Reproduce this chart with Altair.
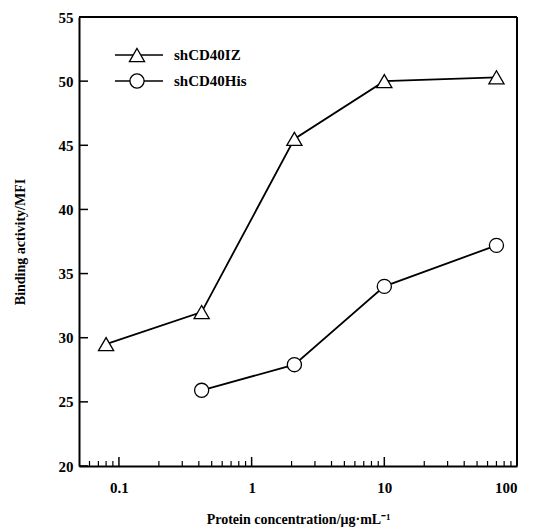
import altair as alt
import pandas as pd

# data
conc_iz = [0.08, 0.42, 2.1, 10, 70]
act_iz = [29.5, 32.0, 45.5, 50.0, 50.3]
conc_his = [0.42, 2.1, 10, 70]
act_his = [25.9, 27.9, 34.0, 37.2]
x_labels = [0.1, 1, 10, 100]
x_major = [0.1, 1, 10]
x_minor = [0.06, 0.07, 0.08, 0.09,
           0.2, 0.3, 0.4, 0.5, 0.6, 0.7, 0.8, 0.9,
           2, 3, 4, 5, 6, 7, 8, 9,
           20, 30, 40, 50, 60, 70, 80, 90]
y_ticks = [20, 25, 30, 35, 40, 45, 50, 55]
legend_names = ["shCD40IZ", "shCD40His"]

FONT = "Liberation Serif"
W, H = 438, 449

xs = alt.Scale(type="log", domain=[0.05, 100], nice=False)
ys = alt.Scale(domain=[20, 55], nice=False, zero=False)

df_iz = pd.DataFrame({"conc": conc_iz, "act": act_iz})
df_his = pd.DataFrame({"conc": conc_his, "act": act_his})

x_axis = alt.Axis(
    values=x_labels, ticks=False, grid=False,
    labelExpr="datum.value < 1 ? format(datum.value, '.1f') : format(datum.value, 'd')",
    labelPadding=14, labelFontSize=15, labelFont=FONT, labelFontWeight="bold",
    labelColor="black",
    domainColor="black", domainWidth=2,
    title="Protein concentration/μg·mL⁻¹", titleFont=FONT, titleFontSize=14,
    titleFontWeight="bold", titleColor="black", titleY=46, titleBaseline="top",
)
y_axis = alt.Axis(
    values=y_ticks, ticks=False, grid=False,
    labelPadding=6, labelFontSize=15, labelFont=FONT, labelFontWeight="bold",
    labelColor="black",
    domainColor="black", domainWidth=2,
    title="Binding activity/MFI", titleFont=FONT, titleFontSize=14,
    titleFontWeight="bold", titleColor="black", titleX=-59, titleY=H / 2,
    titleAngle=270, titleBaseline="middle", titleAlign="center",
)

line_iz = alt.Chart(df_iz).mark_line(color="black", strokeWidth=1.8).encode(
    x=alt.X("conc:Q", scale=xs, axis=x_axis),
    y=alt.Y("act:Q", scale=ys, axis=y_axis),
)
pts_iz = alt.Chart(df_iz).mark_point(
    shape="triangle-up", filled=True, fill="white", stroke="black",
    strokeWidth=1.3, size=230, opacity=1,
).encode(x=alt.X("conc:Q", scale=xs), y=alt.Y("act:Q", scale=ys))

line_his = alt.Chart(df_his).mark_line(color="black", strokeWidth=1.8).encode(
    x=alt.X("conc:Q", scale=xs), y=alt.Y("act:Q", scale=ys),
)
pts_his = alt.Chart(df_his).mark_point(
    shape="circle", filled=True, fill="white", stroke="black",
    strokeWidth=1.3, size=200, opacity=1,
).encode(x=alt.X("conc:Q", scale=xs), y=alt.Y("act:Q", scale=ys))

# inward ticks
yt = alt.Chart(pd.DataFrame({"act": y_ticks})).mark_rule(
    color="black", strokeWidth=1.5
).encode(y=alt.Y("act:Q", scale=ys), x=alt.value(0), x2=alt.value(9))
xt_major = alt.Chart(pd.DataFrame({"conc": x_major})).mark_rule(
    color="black", strokeWidth=1.5
).encode(x=alt.X("conc:Q", scale=xs), y=alt.value(H), y2=alt.value(H - 9))
xt_minor = alt.Chart(pd.DataFrame({"conc": x_minor})).mark_rule(
    color="black", strokeWidth=1.2
).encode(x=alt.X("conc:Q", scale=xs), y=alt.value(H), y2=alt.value(H - 5))

# frame top and right
frame_df = pd.DataFrame({"k": [0]})
frame_top = alt.Chart(frame_df).mark_rule(color="black", strokeWidth=2).encode(
    x=alt.value(0), x2=alt.value(W), y=alt.value(0))
frame_right = alt.Chart(frame_df).mark_rule(color="black", strokeWidth=2).encode(
    x=alt.value(W), y=alt.value(0), y2=alt.value(H))

# legend
leg_y = [38, 64]
leg_shapes = ["triangle-up", "circle"]
legend_layers = []
for name, yy, shp, sz in zip(legend_names, leg_y, leg_shapes, [230, 200]):
    d = pd.DataFrame({"name": [name]})
    legend_layers.append(
        alt.Chart(d).mark_rule(color="black", strokeWidth=1.3).encode(
            x=alt.value(36), x2=alt.value(84), y=alt.value(yy))
    )
    legend_layers.append(
        alt.Chart(d).mark_point(shape=shp, filled=True, fill="white", stroke="black",
                                strokeWidth=1.3, size=sz, opacity=1).encode(
            x=alt.value(58), y=alt.value(yy))
    )
    legend_layers.append(
        alt.Chart(d).mark_text(align="left", baseline="middle", font=FONT,
                               fontWeight="bold", fontSize=15, color="black").encode(
            x=alt.value(95), y=alt.value(yy), text="name:N")
    )

chart = alt.layer(
    yt, xt_major, xt_minor, frame_top, frame_right,
    line_iz, line_his, pts_iz, pts_his, *legend_layers
).properties(
    width=W, height=H,
    autosize=alt.AutoSizeParams(type="none"),
    padding={"left": 71, "top": 9, "right": 19, "bottom": 62},
).configure_view(
    stroke="black", strokeWidth=2
).configure(background="white")

chart.save("out.html", embed_options={"renderer": "svg", "actions": False})
